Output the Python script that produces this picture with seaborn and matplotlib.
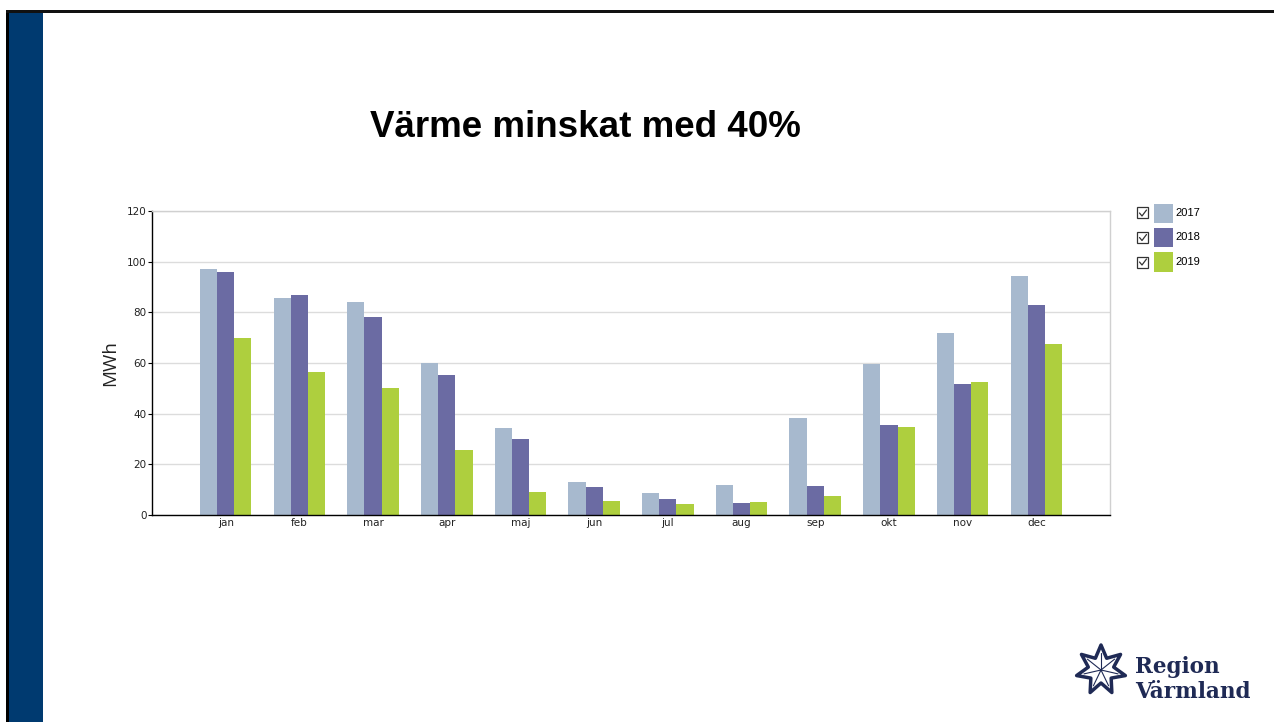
import numpy as np
import pandas as pd
import matplotlib
matplotlib.use("Agg")
import matplotlib.pyplot as plt
from matplotlib.patches import Rectangle, Polygon
from matplotlib.lines import Line2D
import seaborn as sns

months = ["jan", "feb", "mar", "apr", "maj", "jun", "jul", "aug", "sep", "okt", "nov", "dec"]
years = ["2017", "2018", "2019"]
v2017 = [97.2, 85.8, 83.9, 60.0, 34.5, 13.2, 8.6, 11.8, 38.2, 59.6, 71.7, 94.3]
v2018 = [95.9, 86.7, 78.0, 55.1, 29.9, 11.2, 6.3, 4.7, 11.6, 35.7, 51.6, 82.9]
v2019 = [70.0, 56.6, 50.3, 25.8, 9.1, 5.5, 4.3, 5.1, 7.5, 34.9, 52.6, 67.5]
colors = ["#A7B9CE", "#6B6BA3", "#AECF3E"]
title = "Värme minskat med 40%"
ylabel = "MWh"
yticks = [0, 20, 40, 60, 80, 100, 120]

df = pd.DataFrame({
    "month": months * 3,
    "year": [y for y in years for _ in months],
    "value": v2017 + v2018 + v2019,
})

sns.set_theme(style="white")
plt.rcParams["font.family"] = ["Liberation Sans", "DejaVu Sans"]

fig = plt.figure(figsize=(12.74, 7.22), dpi=100)
W, H = 1274, 722

def fx(px):
    return px / W

def fy(py):
    return 1 - py / H

ax = fig.add_axes([fx(152), fy(515), fx(1110) - fx(152), fy(211) - fy(515)])
sns.barplot(data=df, x="month", y="value", hue="year", order=months, hue_order=years,
            palette=colors, width=0.7, linewidth=0, saturation=1, legend=False, ax=ax,
            errorbar=None)
ax.set_xlim(-1, 12)
ax.set_ylim(0, 120)
ax.set_yticks(yticks)
ax.yaxis.grid(True, color="#dcdcdc", linewidth=1)
ax.set_axisbelow(True)
for s in ["top", "right"]:
    ax.spines[s].set_color("#d0d0d0")
    ax.spines[s].set_linewidth(1)
for s in ["left", "bottom"]:
    ax.spines[s].set_color("#000000")
    ax.spines[s].set_linewidth(1)
ax.tick_params(axis="y", length=3, width=0.8, color="#000000", labelsize=7.5, pad=1, left=True)
ax.tick_params(axis="x", length=0, labelsize=7.5, pad=2)
for lab in ax.get_xticklabels() + ax.get_yticklabels():
    lab.set_family(["DejaVu Sans"])
    lab.set_color("#222222")
ax.set_xlabel("")
ax.set_ylabel("")
fig.text(fx(110), fy(363), ylabel, rotation=90, ha="center", va="center", fontsize=13.5,
         color="#222222", family=["Open Sans", "DejaVu Sans"])

# title
fig.text(fx(585), fy(137), title, ha="center", va="baseline", fontsize=26.5,
         fontweight="bold", color="#000000")

# legend (manual, with checkboxes)
for i, (yr, c) in enumerate(zip(years, colors)):
    yc = 213 + i * 24.5
    fig.patches.append(Rectangle((fx(1137), fy(yc + 5.5)), fx(11), fy(yc - 5.5) - fy(yc + 5.5),
                                 transform=fig.transFigure, facecolor="white",
                                 edgecolor="#333333", linewidth=0.9))
    fig.lines.append(Line2D([fx(1139.5), fx(1142), fx(1146.5)], [fy(yc), fy(yc + 3), fy(yc - 3)],
                            transform=fig.transFigure, color="#333333", linewidth=0.9))
    fig.patches.append(Rectangle((fx(1154), fy(yc + 9.5)), fx(19), fy(yc - 9.5) - fy(yc + 9.5),
                                 transform=fig.transFigure, facecolor=c, edgecolor="none"))
    fig.text(fx(1175), fy(yc), yr, ha="left", va="center", fontsize=8, color="#000000",
             family=["Liberation Sans"])

# page decoration: black frame lines and blue side bar
fig.patches.append(Rectangle((fx(6), 0), fx(3), fy(10), transform=fig.transFigure,
                             facecolor="#000000", edgecolor="none"))
fig.patches.append(Rectangle((fx(6), fy(12.5)), 1 - fx(6), fy(10) - fy(12.5), transform=fig.transFigure,
                             facecolor="#111111", edgecolor="none"))
fig.patches.append(Rectangle((fx(9), 0), fx(43) - fx(9), fy(12.5), transform=fig.transFigure,
                             facecolor="#003A70", edgecolor="none"))

# logo
navy = "#1F2A55"
cx, cy, R, r = 1101, 670, 25, 13
pts = []
n = 7
for k in range(2 * n):
    ang = np.pi / 2 + k * np.pi / n
    rad = R if k % 2 == 0 else r
    pts.append((fx(cx + rad * np.cos(ang)), fy(cy - rad * np.sin(ang))))
fig.patches.append(Polygon(pts, closed=True, transform=fig.transFigure, facecolor="white",
                           edgecolor=navy, linewidth=2.5, joinstyle="round"))
for k in range(n):
    ang = np.pi / 2 + 2 * k * np.pi / n
    fig.lines.append(Line2D([fx(cx), fx(cx + 0.7 * R * np.cos(ang))],
                            [fy(cy), fy(cy - 0.7 * R * np.sin(ang))],
                            transform=fig.transFigure, color=navy, linewidth=0.8))
fig.text(fx(1135), fy(673), "Region", ha="left", va="baseline", fontsize=15.5, fontweight="bold",
         color=navy, family=["DejaVu Serif"])
fig.text(fx(1135), fy(698), "Värmland", ha="left", va="baseline", fontsize=15.5, fontweight="bold",
         color=navy, family=["DejaVu Serif"])

fig.savefig("out.png", dpi=100, facecolor="white")
